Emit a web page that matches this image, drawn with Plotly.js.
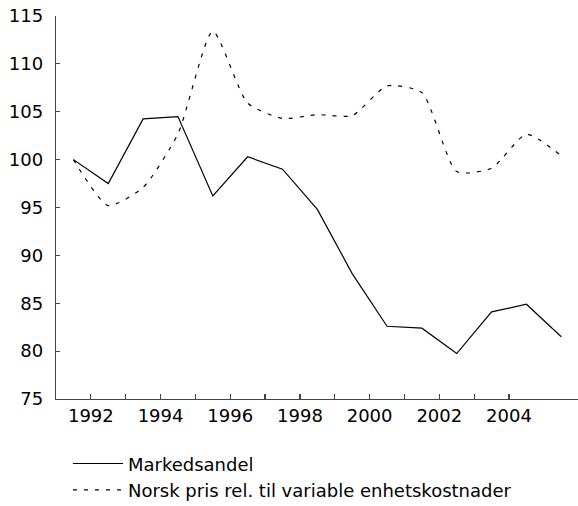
<!DOCTYPE html>
<html>
<head>
<meta charset="utf-8">
<script src="https://cdn.plot.ly/plotly-3.0.1.min.js"></script>
<style>html,body{margin:0;padding:0;background:#fff;}#chart{width:578px;height:506px;}</style>
</head>
<body>
<div id="chart"></div>
<script>
const years = [1991,1992,1993,1994,1995,1996,1997,1998,1999,2000,2001,2002,2003,2004,2005];
const markedsandel = [100,97.5,104.25,104.5,96.2,100.3,99.0,94.8,88.1,82.6,82.4,79.75,84.1,84.9,81.5];
const norskPris = [100,95.2,97.1,102.7,113.4,105.9,104.3,104.7,104.6,107.7,107.0,98.75,99.1,102.65,100.4];
const seriesNames = ["Markedsandel","Norsk pris rel. til variable enhetskostnader"];
const tickYears = [1992,1993,1994,1995,1996,1997,1998,1999,2000,2001,2002,2003,2004];
const yTicks = [75,80,85,90,95,100,105,110,115];

const xMid = years.map(y => y + 0.5);
const font = {family: "DejaVu Sans, sans-serif", size: 18, color: "#000"};

const traces = [
  {x: xMid, y: markedsandel, name: seriesNames[0], type: "scatter", mode: "lines",
   line: {color: "#000", width: 1.2}},
  {x: xMid, y: norskPris, name: seriesNames[1], type: "scatter", mode: "lines",
   line: {color: "#000", width: 1.2, dash: "4px,7px", shape: "spline", smoothing: 0.6}}
];

const layout = {
  width: 578, height: 506,
  margin: {l: 56, r: 0, t: 16, b: 107, autoexpand: false},
  paper_bgcolor: "#fff", plot_bgcolor: "#fff",
  font: font,
  showlegend: true,
  legend: {orientation: "v", xref: "container", yref: "container", x: 0.1176, y: 0.12,
           xanchor: "left", yanchor: "top", font: font, bgcolor: "rgba(0,0,0,0)",
           itemwidth: 50},
  xaxis: {range: [1991, 2005.98], tickmode: "array", tickvals: tickYears,
          ticktext: tickYears.map(y => y % 2 === 0 ? String(y) : ""),
          ticks: "inside", ticklen: 5, tickcolor: "#444", tickwidth: 1.2, tickangle: 0,
          showline: true, linecolor: "#444", linewidth: 1.3, showgrid: false, zeroline: false,
          tickfont: font, fixedrange: true},
  yaxis: {range: [75, 115], tickmode: "array", tickvals: yTicks,
          ticks: "inside", ticklen: 4, tickcolor: "#444", tickwidth: 1.2,
          showline: true, linecolor: "#444", linewidth: 1.3, showgrid: false, zeroline: false,
          tickfont: font, ticklabelstandoff: 8, fixedrange: true}
};

Plotly.newPlot("chart", traces, layout, {displayModeBar: false, staticPlot: true});
</script>
</body>
</html>
